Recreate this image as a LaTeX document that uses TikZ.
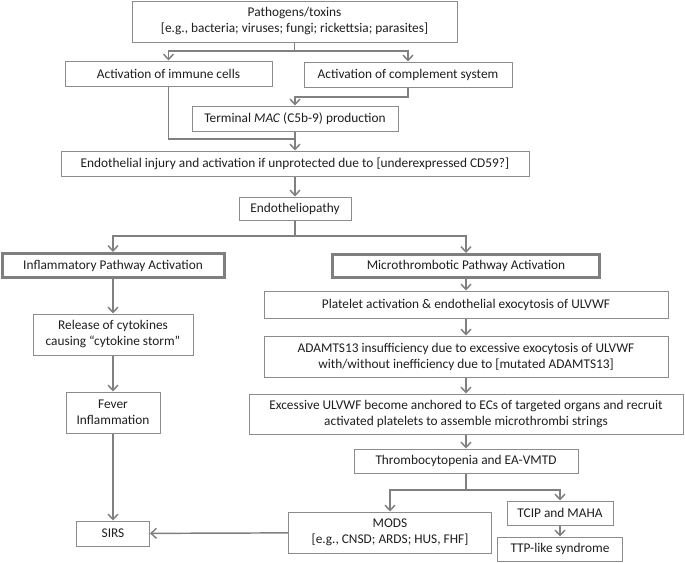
\documentclass[tikz,border=0pt]{standalone}
\usepackage{fontspec}
\setmainfont{Carlito}
\usetikzlibrary{arrows.meta,positioning}
\definecolor{boxgray}{HTML}{8C8C8C}
\definecolor{thickgray}{HTML}{7F7F7F}
\definecolor{linegray}{HTML}{808080}
\definecolor{textgray}{HTML}{1E1E1E}

\begin{document}
\begin{tikzpicture}[x=0.75pt, y=-0.75pt, >={Straight Barb[length=4pt, width=7.5pt]},
	font=\fontsize{10}{12}\selectfont, boxsize/.style 2 args={minimum width=#1*0.75pt, minimum height=#2*0.75pt}]
	\tikzstyle{box} = [draw=boxgray, line width=0.75pt, text=textgray, align=center, inner sep=0pt];
	\tikzstyle{thickbox} = [box, draw=thickgray, line width=2.25pt];
	\tikzstyle{wire} = [draw=linegray, line width=1.1pt];

	\useasboundingbox (0,0) rectangle (685,562);

	\node [box, boxsize={325}{41}]   (pathogen)   at (294.5,21.5) {Pathogens/toxins\\{[e.g., bacteria; viruses; fungi; rickettsia; parasites]}};
	\node [box, boxsize={207}{25}]   (immune)     at (168.5,73.5) {Activation of immune cells};
	\node [box, boxsize={208}{25}]   (complement) at (408,74.5)   {Activation of complement system};
	\node [box, boxsize={206}{25}]   (mac)        at (295,118.5)  {Terminal \textit{MAC} (C5b-9) production};
	\node [box, boxsize={468}{25}]   (injury)     at (295,163.5)  {Endothelial injury and activation if unprotected due to [underexpressed CD59?]};
	\node [box, boxsize={112}{23}]   (endo)       at (295,208.5)  {Endotheliopathy};

	\node [thickbox, boxsize={222}{24}] (inflam)  at (113,265.5)  {Inflammatory Pathway Activation};
	\node [box, boxsize={160}{41}]   (cytokine)   at (113,334.5)  {Release of cytokines\\causing “cytokine storm”};
	\node [box, boxsize={94}{41}]    (fever)      at (113,412.5)  {Fever\\Inflammation};
	\node [box, boxsize={73}{25}]    (sirs)       at (113,533.5)  {SIRS};

	\node [thickbox, boxsize={267}{23}] (micro)   at (466,266)    {Microthrombotic Pathway Activation};
	\node [box, boxsize={404}{27}]   (platelet)   at (466,304.5)  {Platelet activation \& endothelial exocytosis of ULVWF};
	\node [box, boxsize={404}{41}]   (adamts)     at (466,356.5)  {ADAMTS13 insufficiency due to excessive exocytosis of ULVWF\\with/without inefficiency due to [mutated ADAMTS13]};
	\node [box, boxsize={434}{40}]   (ulvwf)      at (466,414)    {Excessive ULVWF become anchored to ECs of targeted organs and recruit\\activated platelets to assemble microthrombi strings};
	\node [box, boxsize={224}{24}]   (thrombo)    at (466,461)    {Thrombocytopenia and EA-VMTD};
	\node [box, boxsize={203}{41}]   (mods)       at (390,532.5)  {MODS\\{[e.g., CNSD; ARDS; HUS, FHF]}};
	\node [box, boxsize={106}{24}]   (tcip)       at (560,513)    {TCIP and MAHA};
	\node [box, boxsize={125}{24}]   (ttp)        at (560,549)    {TTP-like syndrome};

	\coordinate (split_0) at (294.5,51);
	\coordinate (split_1) at (295,97);
	\coordinate (split_2) at (295,139);
	\coordinate (split_3) at (295,236);
	\coordinate (split_4) at (466,490);

	\path [wire] (pathogen) -- (split_0);
	\path [wire, ->] (split_0) -| (immune);
	\path [wire, ->] (split_0) -| (complement);
	\path [wire, ->] (complement.south) |- (split_1) -- (mac);
	\path [wire] (immune.south) |- (split_2);
	\path [wire, ->] (mac) -- (injury);
	\path [wire, ->] (injury) -- (endo);
	\path [wire] (endo) -- (split_3);
	\path [wire, ->] (split_3) -| (inflam);
	\path [wire, ->] (split_3) -| (micro);
	\path [wire, ->] (inflam) -- (cytokine);
	\path [wire, ->] (cytokine) -- (fever);
	\path [wire, ->] (fever) -- (sirs);
	\path [wire, ->] (micro) -- (platelet);
	\path [wire, ->] (platelet) -- (adamts);
	\path [wire, ->] (adamts) -- (ulvwf);
	\path [wire, ->] (ulvwf) -- (thrombo);
	\path [wire] (thrombo) -- (split_4);
	\path [wire, ->] (split_4) -| (mods);
	\path [wire, ->] (split_4) -| (tcip);
	\path [wire, ->] (tcip) -- (ttp);
	\path [wire, ->] (mods) -- (sirs);
\end{tikzpicture}
\end{document}
